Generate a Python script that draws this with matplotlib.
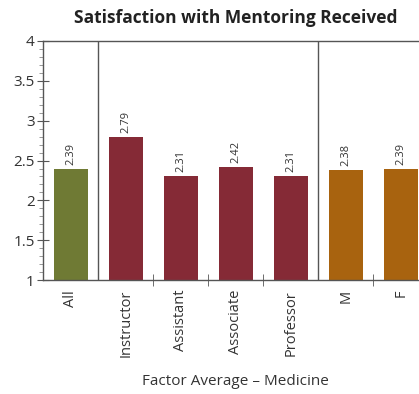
import numpy as np
import matplotlib
matplotlib.use('Agg')
import matplotlib.pyplot as plt
from matplotlib.ticker import MultipleLocator, FixedLocator

# Dados
categorias = ['All', 'Instructor', 'Assistant', 'Associate', 'Professor', 'M', 'F']
valores = [2.39, 2.79, 2.31, 2.42, 2.31, 2.38, 2.39]
cores = ['#6f7a34', '#852a36', '#852a36', '#852a36', '#852a36', '#a8630f', '#a8630f']
separadores = [0.5, 4.5]

plt.rcParams['font.family'] = ['Open Sans', 'DejaVu Sans']

fig = plt.figure(figsize=(4.19, 3.94), dpi=100)
ax = fig.add_axes([0.103, 0.289, 0.919, 0.607])

x = np.arange(len(categorias))
barras = ax.bar(x, valores, width=0.62, color=cores, zorder=2)

for xi, v in zip(x, valores):
    ax.text(xi, v + 0.05, f'{v:.2f}', rotation=90, ha='center', va='bottom',
            fontsize=8, color='#333333')

for s in separadores:
    ax.axvline(s, color='#555555', lw=1, zorder=1)

ax.set_xlim(-0.5, 6.5)
ax.set_ylim(1, 4)
ax.set_xticks(x)
ax.set_xticklabels(categorias, rotation=90, fontsize=10.5, color='#333333')
ax.tick_params(axis='x', which='major', length=0, pad=7)
ax.xaxis.set_minor_locator(FixedLocator([1.5, 2.5, 3.5, 5.5]))
ax.tick_params(axis='x', which='minor', direction='inout', length=8, color='#555555')

ax.yaxis.set_minor_locator(MultipleLocator(0.1))
ax.set_yticks([1, 1.5, 2, 2.5, 3, 3.5, 4])
ax.set_yticklabels(['1', '1.5', '2', '2.5', '3', '3.5', '4'], fontsize=11, color='#333333')
ax.tick_params(axis='y', which='major', direction='inout', length=8, color='#555555', pad=2)
ax.tick_params(axis='y', which='minor', direction='out', length=3, color='#888888')

for sp in ax.spines.values():
    sp.set_color('#555555')
    sp.set_linewidth(1)

ax.set_xlabel('Factor Average – Medicine', fontsize=11, color='#333333', labelpad=12)
fig.text(0.563, 0.955, 'Satisfaction with Mentoring Received', ha='center', va='center',
         fontsize=12.5, fontweight='bold', color='#222222')

fig.savefig('out.png', dpi=100)
